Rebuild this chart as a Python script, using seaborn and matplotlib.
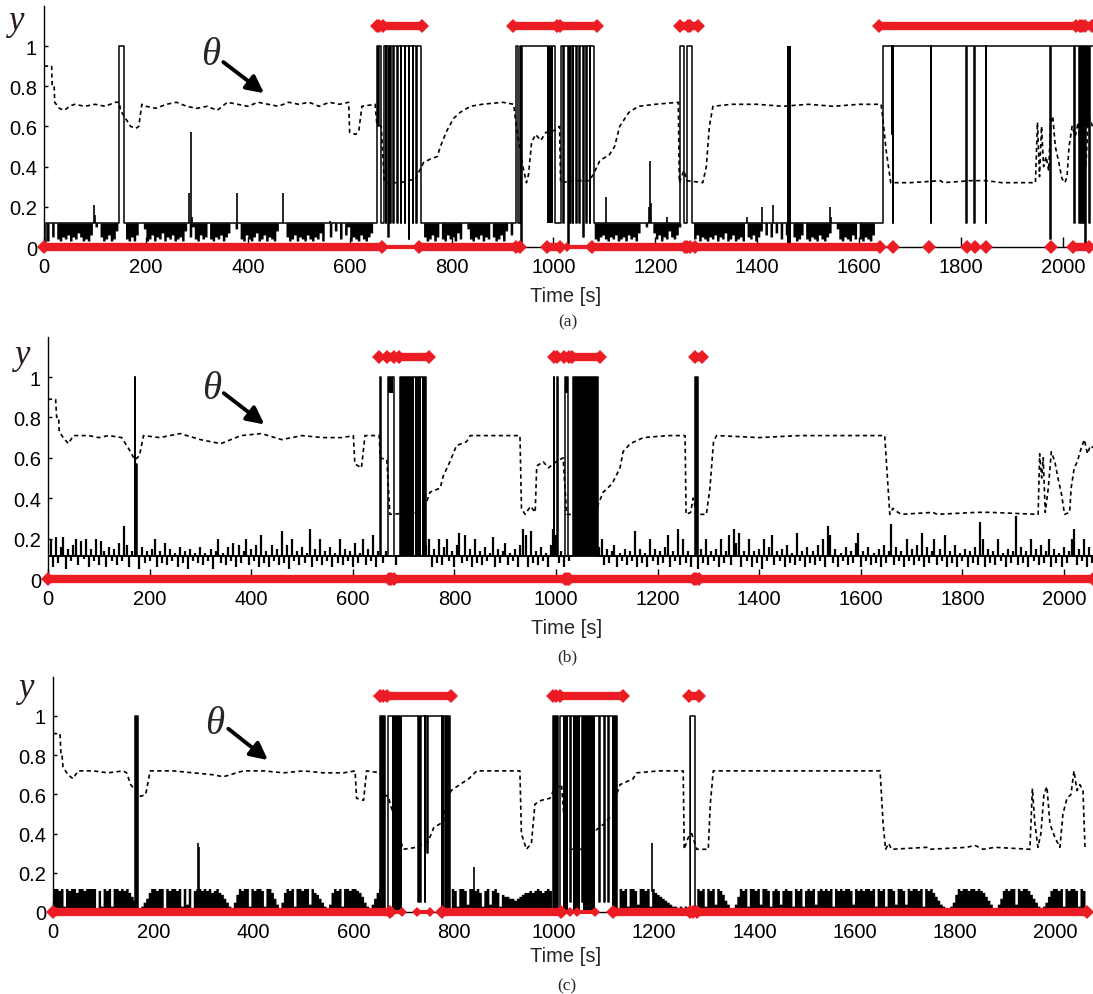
import numpy as np
import matplotlib
matplotlib.use('Agg')
import matplotlib.pyplot as plt
import seaborn as sns

sns.set_theme(style='white')
plt.rcParams['font.family'] = ['Liberation Sans', 'DejaVu Sans']

RED = '#ec1c24'
W, H = 1093, 995
BIN = 5  # seconds per noise bin

# ---------------------------------------------------------------- panel (a)
theta_t_a = [0, 15, 16, 20, 21, 30, 40, 50, 60, 80, 100, 120, 140, 148, 150, 160, 170, 180, 186, 192,
             200, 220, 240, 260, 280, 300, 320, 340, 360, 380, 400, 420, 440, 460, 480, 500, 520, 540,
             560, 580, 598, 600, 612, 618, 624, 650, 653, 656, 662, 668, 700, 730, 735, 745, 760, 772,
             778, 791, 804, 817, 837, 860, 900, 922, 926, 940, 947, 951, 957, 965, 975, 985, 1002, 1012,
             1014, 1040, 1070, 1078, 1091, 1110, 1120, 1130, 1148, 1167, 1200, 1245, 1247, 1256, 1262,
             1293, 1300, 1306, 1313, 1350, 1400, 1450, 1500, 1550, 1600, 1643, 1646, 1653, 1662, 1700,
             1760, 1765, 1820, 1850, 1880, 1946, 1950, 1954, 1958, 1962, 1967, 1972, 1976, 1980, 1985,
             1992, 1998, 2004, 2008, 2012, 2018, 2024, 2030, 2035, 2040, 2045, 2050, 2058]
theta_v_a = [0.90, 0.90, 0.80, 0.80, 0.72, 0.69, 0.68, 0.70, 0.71, 0.70, 0.71, 0.70, 0.72, 0.72, 0.68,
             0.64, 0.60, 0.59, 0.60, 0.71, 0.70, 0.69, 0.71, 0.72, 0.70, 0.69, 0.70, 0.68, 0.72, 0.71,
             0.70, 0.72, 0.71, 0.70, 0.72, 0.71, 0.72, 0.70, 0.72, 0.71, 0.72, 0.57, 0.56, 0.58, 0.70,
             0.71, 0.62, 0.61, 0.60, 0.32, 0.32, 0.34, 0.37, 0.42, 0.44, 0.45, 0.50, 0.58, 0.64, 0.67,
             0.70, 0.71, 0.72, 0.71, 0.62, 0.40, 0.32, 0.36, 0.52, 0.56, 0.53, 0.57, 0.58, 0.60, 0.32,
             0.33, 0.33, 0.36, 0.43, 0.46, 0.50, 0.60, 0.67, 0.70, 0.71, 0.72, 0.32, 0.38, 0.33, 0.32,
             0.40, 0.60, 0.70, 0.71, 0.71, 0.70, 0.71, 0.70, 0.71, 0.71, 0.65, 0.48, 0.32, 0.32, 0.33,
             0.32, 0.33, 0.33, 0.32, 0.32, 0.62, 0.35, 0.60, 0.40, 0.45, 0.38, 0.62, 0.65, 0.50, 0.42,
             0.34, 0.32, 0.35, 0.50, 0.60, 0.55, 0.62, 0.45, 0.62, 0.40, 0.66, 0.60]

sig_t_a = [0, 3, 148, 157,
           653, 656, 658, 661, 667, 671, 672, 676, 677, 680, 681, 686, 687, 693, 694, 700, 701, 708,
           709, 716, 717, 724, 725, 731, 732, 740,
           926, 931, 934, 936, 938, 1003, 1014, 1019, 1020, 1029, 1030, 1033, 1034, 1038, 1039, 1045,
           1046, 1051, 1052, 1058, 1059, 1064, 1065, 1071, 1072, 1080,
           1248, 1256, 1262, 1271,
           1646, 1664, 1665, 1666, 1667, 1741, 1742, 1810, 1811, 1826, 1827, 1848, 1849, 1975, 1976,
           2022, 2023, 2032, 2033, 2036, 2037, 2040, 2041, 2044, 2045, 2048, 2049, 2052, 2053, 2059]
sig_v_a = [0.02, 0.12, 1.0, 0.12,
           1.0, 0.6, 1.0, 0.12, 1.0, 0.12, 1.0, 0.05, 1.0, 0.12, 1.0, 0.12, 1.0, 0.12, 1.0, 0.12, 1.0,
           0.12, 1.0, 0.04, 1.0, 0.12, 1.0, 0.12, 1.0, 0.12,
           1.0, 0.12, 1.0, 0.0, 1.0, 0.12, 1.0, 0.12, 1.0, 0.0, 1.0, 0.12, 1.0, 0.12, 1.0, 0.12, 1.0,
           0.12, 1.0, 0.05, 1.0, 0.12, 1.0, 0.12, 1.0, 0.12,
           1.0, 0.12, 1.0, 0.12,
           1.0, 0.56, 1.0, 0.12, 1.0, 0.12, 1.0, 0.12, 1.0, 0.12, 1.0, 0.12, 1.0, 0.04, 1.0,
           0.12, 1.0, 0.12, 1.0, 0.12, 1.0, 0.12, 1.0, 0.0, 1.0, 0.6, 1.0, 0.12, 1.0, 1.0]

# lower edge (x100) of the dense dips below the 0.12 level, one value per 5 s
dip_a = ([12, 3, 12, 5, 12, 4, 3, 5, 4, 6, 3, 5, 4, 7, 5, 3, 4, 3, 6, 12] +
         [10, 12, 5, 3, 4, 6, 3, 4, 8, 12, 12, 12, 4, 3, 5, 3, 6, 12, 12, 9] +
         [3, 4, 6, 3, 5, 4, 7, 3, 5, 4, 6, 3, 4, 5, 3, 8, 12, 5, 10, 4] +
         [3, 6, 4, 5, 12, 4, 3, 5, 4, 6, 3, 5, 7, 12, 12, 9, 12, 4, 3, 6] +
         [4, 3, 5, 7, 3, 4, 6, 3, 5, 4, 3, 8, 12, 12, 12, 5, 3, 4, 6, 3] +
         [5, 4, 3, 6, 4, 3, 5, 4, 7, 3, 12, 12, 5, 12, 8, 12, 4, 12, 6, 10] +
         [3, 5, 4, 3, 6, 4, 3, 5, 7] + [12] * 11 +
         [12] * 9 + [5, 3, 4, 6, 3, 5, 12, 4, 3, 6, 4] +
         [5, 3, 7, 4, 12, 12, 9, 4, 3, 5, 4, 6, 3, 5, 4, 12, 5, 3, 4, 6] +
         [3, 8, 12, 6, 12] + [12] * 15 +
         [12] * 16 + [4, 3, 5, 6] +
         [4, 3, 5, 4, 6, 3, 4, 5, 3, 6, 4, 5, 3, 7, 12, 12, 10, 12, 12, 7] +
         [4, 6, 3, 5, 4, 8, 5, 4, 6, 10, 12, 12, 12, 12, 12, 4, 6, 3, 5, 4] +
         [3, 5, 4, 6, 3, 5, 4, 7, 3, 4, 6, 3, 4, 5, 3, 12, 5, 4, 6, 3] +
         [5, 8, 12, 6, 12, 5, 12, 7, 12, 4, 12, 6, 12, 12, 5, 3, 4, 6, 12, 4] +
         [3, 5, 4, 3, 6, 4, 3, 5, 7, 12, 12, 9, 4, 3, 5, 4, 3, 6, 4, 12] +
         [4, 3, 5, 4, 3, 6] + [12] * 14 +
         [12] * 80)
spike_t_a = [99, 101, 285, 288, 290, 378, 470, 561, 1104, 1188, 1190, 1192, 1222, 1379, 1410, 1430, 1543, 1545]
spike_v_a = [0.21, 0.16, 0.27, 0.57, 0.15, 0.27, 0.27, 0.13, 0.25, 0.20, 0.43, 0.22, 0.15, 0.15, 0.20, 0.21, 0.20, 0.15]
dense_s_a = [988, 1459]
dense_e_a = [1000, 1467]
dense_lo_a = [0.12, 0.02]
top_band_a = [(665, 741), (921, 1007), (1012, 1085), (1248, 1264), (1268, 1283), (1638, 2026), (2044, 2058)]
top_pts_a = [653, 657, 2033, 2038]
bot_band_a = [(0, 663), (737, 926), (988, 1012), (1075, 1258), (1277, 1640), (2020, 2052)]
bot_chain_a = [(665, 737), (1027, 1071)]
bot_pts_a = [935, 1262, 1268, 1666, 1738, 1811, 1827, 1848, 1976]

# ---------------------------------------------------------------- panel (b)
theta_t_b = [0, 15, 17, 21, 22, 30, 40, 50, 80, 100, 120, 145, 150, 160, 171, 180, 188, 220, 260, 300,
             340, 380, 420, 460, 500, 540, 580, 601, 604, 617, 624, 652, 654, 667, 673, 730, 745, 752,
             772, 778, 791, 804, 824, 831, 880, 929, 932, 939, 950, 959, 962, 975, 985, 1000, 1014, 1021,
             1080, 1083, 1093, 1110, 1126, 1132, 1146, 1172, 1220, 1254, 1256, 1265, 1270, 1277, 1296,
             1303, 1310, 1316, 1400, 1480, 1560, 1647, 1657, 1663, 1673, 1680, 1742, 1750, 1828, 1854,
             1949, 1952, 1956, 1959, 1963, 1969, 1975, 1982, 1988, 1995, 2001, 2011, 2014, 2020, 2026,
             2034, 2040, 2046, 2052, 2057]
theta_v_b = [0.89, 0.89, 0.80, 0.80, 0.73, 0.70, 0.67, 0.71, 0.71, 0.70, 0.71, 0.70, 0.68, 0.64, 0.59,
             0.61, 0.71, 0.70, 0.72, 0.69, 0.67, 0.71, 0.72, 0.69, 0.71, 0.70, 0.70, 0.71, 0.57, 0.55,
             0.71, 0.71, 0.60, 0.59, 0.32, 0.33, 0.38, 0.43, 0.45, 0.51, 0.58, 0.66, 0.68, 0.71, 0.71,
             0.71, 0.35, 0.32, 0.36, 0.33, 0.56, 0.58, 0.55, 0.58, 0.60, 0.32, 0.32, 0.37, 0.43, 0.47,
             0.55, 0.63, 0.67, 0.70, 0.71, 0.71, 0.32, 0.33, 0.40, 0.32, 0.32, 0.45, 0.68, 0.71, 0.70,
             0.71, 0.71, 0.71, 0.32, 0.35, 0.33, 0.32, 0.33, 0.32, 0.33, 0.33, 0.32, 0.62, 0.50, 0.60,
             0.33, 0.45, 0.63, 0.58, 0.50, 0.42, 0.32, 0.33, 0.45, 0.55, 0.58, 0.65, 0.69, 0.62, 0.66, 0.65]
sig_t_b = [0, 171, 172, 173, 175, 653, 655, 670, 681, 693, 745, 996, 997, 1002, 1003, 1017, 1024,
           1034, 1083, 1273, 1280, 2057]
sig_v_b = [0.115, 1.0, 0.115, 0.57, 0.115, 1.0, 0.115, 1.0, 0.115, 1.0, 0.115, 1.0, 0.115, 1.0, 0.115,
           1.0, 0.115, 1.0, 0.115, 1.0, 0.115, 0.115]
base_b = 0.115
# noise excursion end (x100) around the 0.115 level, one value per 5 s
noise_b = ([17, 20, 6, 21, 8, 16, 21, 5, 15, 9, 17, 20, 7, 19, 10, 20, 6, 15, 9, 20] +
           [7, 19, 14, 6, 16, 9, 15, 7, 18, 9, 26, 17, 6, 14, 12, 12, 5, 16, 8, 14] +
           [9, 15, 20, 6, 14, 8, 18, 7, 15, 9, 13, 6, 16, 8, 14, 5, 15, 9, 13, 8] +
           [16, 7, 13, 9, 15, 5, 14, 20, 8, 13, 7, 16, 9, 18, 6, 17, 8, 14, 20, 7] +
           [15, 9, 17, 6, 22, 8, 14, 6, 17, 9, 15, 7, 24, 8, 17, 5, 20, 9, 14, 7] +
           [16, 8, 13, 25, 6, 15, 9, 20, 7, 14, 9, 16, 6, 13, 8, 20, 7, 15, 9, 14] +
           [6, 18, 8, 13, 20, 7, 15, 9, 22, 6, 14, 12, 8, 14, 12, 12, 12, 7, 12, 12] +
           [12] * 9 + [17, 20, 6, 15, 8, 20, 7, 16, 20, 9, 14] +
           [6, 17, 23, 8, 22, 9, 15, 6, 20, 8, 14, 7, 16, 9, 13, 21, 6, 15, 8, 14] +
           [18, 7, 13, 9, 15, 6, 17, 25, 22, 6, 24, 8, 14, 7, 16, 9, 13, 6, 17, 25] +
           [22, 8, 14, 6, 12, 9, 12] + [12] * 10 + [16, 20, 7] +
           [15, 8, 14, 17, 6, 13, 9, 15, 7, 14, 9, 24, 6, 15, 8, 13, 6, 20, 9, 15] +
           [7, 14, 8, 16, 22, 6, 14, 9, 25, 7, 20, 8, 14, 6, 12, 12, 5, 15, 8, 20] +
           [7, 14, 9, 15, 6, 20, 8, 14, 22, 7, 25, 18, 23, 6, 14, 9, 20, 6, 14, 8] +
           [15, 5, 20, 9, 16, 22, 7, 14, 9, 15, 6, 17, 8, 13, 7, 23, 9, 14, 6, 16] +
           [8, 14, 7, 17, 9, 20, 6, 26, 22, 8, 15, 6, 13, 9, 16, 7, 14, 8, 18, 23] +
           [6, 14, 9, 16, 7, 13, 8, 15, 6, 17, 8, 14, 27, 7, 16, 9, 14, 6, 20, 9] +
           [15, 7, 17, 9, 23, 6, 16, 8, 14, 20, 7, 15, 9, 22, 6, 14, 8, 17, 6, 13] +
           [9, 15, 6, 14, 8, 16, 7, 28, 20, 6, 15, 8, 14, 7, 20, 9, 13, 6, 15, 8] +
           [14, 31, 7, 16, 8, 14, 6, 20, 9, 15, 7, 17, 8, 14, 20, 6, 15, 8, 13, 6] +
           [16, 8, 14, 20, 25, 7, 15, 9, 20, 6, 16, 8] + [12] * 8)
dense_s_b = [670, 693, 723, 737, 1017, 1034, 1273]
dense_e_b = [680, 721, 734, 745, 1023, 1083, 1280]
dense_lo_b = [0.92, 0.115, 0.115, 0.115, 0.92, 0.115, 0.115]
top_band_b = [(668, 682), (690, 749), (1015, 1025), (1032, 1087), (1273, 1287)]
top_pts_b = [651, 996, 1001]
bot_band_b = [(0, 671), (681, 1018), (1025, 1272), (1281, 2057)]
bot_chain_b = []
bot_pts_b = [676, 1021, 1276]

# ---------------------------------------------------------------- panel (c)
theta_t_c = [0, 14, 16, 18, 20, 30, 40, 50, 80, 110, 140, 147, 155, 165, 175, 185, 194, 240, 280, 320,
             340, 380, 420, 460, 500, 540, 580, 603, 606, 620, 626, 653, 659, 669, 699, 726, 740, 749,
             760, 779, 786, 795, 812, 830, 846, 890, 932, 935, 945, 955, 962, 975, 992, 999, 1015, 1025,
             1065, 1070, 1085, 1100, 1118, 1122, 1132, 1158, 1165, 1210, 1258, 1260, 1268, 1275, 1285,
             1308, 1312, 1318, 1380, 1450, 1520, 1600, 1651, 1657, 1662, 1668, 1674, 1744, 1750, 1824,
             1840, 1857, 1880, 1950, 1955, 1960, 1966, 1972, 1978, 1984, 1990, 2000, 2010, 2016, 2024,
             2032, 2038, 2044, 2050, 2056, 2060]
theta_v_c = [0.91, 0.91, 0.80, 0.80, 0.74, 0.70, 0.68, 0.72, 0.72, 0.71, 0.72, 0.71, 0.65, 0.62, 0.59,
             0.60, 0.72, 0.72, 0.71, 0.70, 0.69, 0.72, 0.72, 0.71, 0.72, 0.71, 0.71, 0.72, 0.58, 0.57,
             0.72, 0.71, 0.60, 0.59, 0.32, 0.33, 0.35, 0.36, 0.43, 0.46, 0.57, 0.62, 0.65, 0.68, 0.72,
             0.72, 0.72, 0.40, 0.32, 0.35, 0.55, 0.57, 0.58, 0.62, 0.65, 0.32, 0.32, 0.35, 0.42, 0.45,
             0.50, 0.58, 0.65, 0.68, 0.71, 0.72, 0.72, 0.32, 0.38, 0.40, 0.32, 0.32, 0.55, 0.72, 0.72,
             0.72, 0.72, 0.72, 0.72, 0.45, 0.32, 0.35, 0.32, 0.33, 0.32, 0.33, 0.34, 0.32, 0.33, 0.32,
             0.63, 0.45, 0.33, 0.40, 0.60, 0.64, 0.45, 0.38, 0.33, 0.50, 0.58, 0.60, 0.72, 0.62, 0.65,
             0.62, 0.33]
sig_t_c = [0, 164, 169, 653, 662, 669, 729, 730, 733, 734, 742, 743, 747, 748, 776, 777, 779, 780, 793,
           999, 1008, 1012, 1033, 1034, 1056, 1057, 1090, 1091, 1100, 1101, 1108, 1109, 1126, 1271, 1281, 2062]
sig_v_c = [0.0, 1.0, 0.0, 1.0, 0.0, 1.0, 0.05, 1.0, 0.05, 1.0, 0.05, 1.0, 0.3, 1.0, 0.0, 1.0, 0.0, 1.0, 0.0,
           1.0, 0.0, 1.0, 0.05, 1.0, 0.05, 1.0, 0.05, 1.0, 0.05, 1.0, 0.05, 1.0, 0.0, 1.0, 0.0, 0.0]
# top (x100) of the dense mass rising from 0, one value per 5 s
mass_c = ([12, 12, 11, 12, 3, 12, 11, 12, 12, 10, 12, 12, 11, 12, 12, 12, 12, 2, 11, 3] +
          [12, 11, 12, 3, 12, 12, 11, 12, 11, 12, 10, 8, 6, 0, 2, 3, 5, 7, 10, 12] +
          [12, 11, 12, 12, 2, 12, 11, 12, 12, 11, 12, 3, 12, 4, 12, 2, 11, 12, 12, 11] +
          [12, 11, 12, 10, 11, 12, 10, 9, 7, 5, 3, 2, 5, 9, 12, 11, 12, 12, 3, 12] +
          [11, 12, 12, 11, 3, 12, 12, 10, 7, 4, 2, 5, 10, 12, 11, 12, 3, 12, 12, 11] +
          [12, 12, 4, 12, 10, 9, 7, 5, 3, 2, 4, 10, 12, 11, 12, 3, 12, 12, 11, 12] +
          [12, 11, 10, 8, 5, 3, 2, 4, 7, 10, 12] + [0] * 9 +
          [0] * 19 + [12] +
          [11, 3, 12, 12, 11, 4, 12, 12, 11, 12, 10, 3, 11, 12, 4, 11, 12, 10, 3, 9] +
          [8, 8, 7, 7, 6, 7, 8, 9, 10, 10, 11, 10, 11, 12, 11, 10, 11, 12, 11, 0] +
          [0] * 20 +
          [0] * 6 + [12, 11, 12, 3, 12, 12, 11, 4, 12, 12, 11, 12, 3, 12] +
          [10, 9, 8, 7, 6, 5, 4, 3, 3, 2, 3, 2, 3, 2, 0, 0, 0, 12, 11, 12] +
          [3, 12, 11, 12, 4, 12, 11, 9, 6, 4, 2, 2, 4, 8, 12, 11, 12, 3, 12, 12] +
          [11, 12, 4, 12, 12, 11, 3, 11, 12, 11, 4, 11, 12, 11, 11, 3, 12, 11, 12, 3] +
          [11, 12, 11, 12, 4, 11, 12, 11, 12, 11, 12, 3, 12, 11, 12, 11, 12, 12, 11, 4] +
          [12, 11, 12, 11, 12, 12, 11, 12, 3, 12, 11, 12, 3, 12, 12, 11, 4, 12, 12, 11] +
          [4, 12, 11, 12, 12, 11, 12, 3, 12, 11, 12, 10, 8, 6, 4, 3, 2, 2, 3, 5] +
          [9, 12, 11, 12, 12, 11, 12, 12, 11, 12, 11, 10, 8, 6, 4, 2, 2, 4, 7, 11] +
          [12, 11, 12, 12, 4, 12, 11, 12, 12, 11, 9, 7, 5, 3, 2, 3, 5, 8, 11, 12] +
          [12, 11, 12, 3, 12, 11, 12, 12, 11, 3, 12, 11] + [0] * 8)
spike_t_c = [290, 292, 840, 1195]
spike_v_c = [0.35, 0.33, 0.23, 0.35]
dense_s_c = [164, 653, 676, 782, 999, 1018, 1038, 1058, 1115, 1271]
dense_e_c = [169, 662, 696, 793, 1008, 1029, 1052, 1082, 1125, 1274]
dense_lo_c = [0.0] * 10
top_band_c = [(666, 794), (1012, 1138), (1270, 1290)]
top_pts_c = [652, 658, 998, 1004]
bot_band_c = [(0, 673), (776, 1015), (1118, 1271), (1285, 2064)]
bot_chain_c = [(676, 696), (726, 753), (1018, 1032), (1045, 1082)]
bot_pts_c = [1277]

x_ticks = [0, 200, 400, 600, 800, 1000, 1200, 1400, 1600, 1800, 2000]
y_ticks = [0, 0.2, 0.4, 0.6, 0.8, 1.0]
y_tick_labels = ['0', '0.2', '0.4', '0.6', '0.8', '1']

fig = plt.figure(figsize=(W / 100, H / 100), dpi=100)


def make_axes(left_px, y0_px, ppu):
    ax = fig.add_axes([left_px / W, (H - y0_px) / H, (W - left_px) / W, 1.2 * ppu / H])
    return ax


def red_marks(ax, bands, chains, pts, y):
    for s, e in bands:
        ax.plot([s, e], [y, y], color=RED, lw=6.0, solid_capstyle='butt', marker='D', ms=7,
                mew=0, clip_on=False, zorder=6)
    for s, e in chains:
        ax.plot([s, e], [y, y], color=RED, lw=3.0, solid_capstyle='butt', marker='D', ms=5,
                mew=0, clip_on=False, zorder=6)
    if pts:
        ax.plot(pts, [y] * len(pts), ls='none', color=RED, marker='D', ms=7, mew=0,
                clip_on=False, zorder=6)


def finish(ax, xmax):
    ax.set_xlim(0, xmax)
    ax.set_ylim(0, 1.2)
    ax.set_xticks(x_ticks)
    ax.set_xticklabels([str(v) for v in x_ticks])
    ax.set_yticks(y_ticks)
    ax.set_yticklabels(y_tick_labels)
    ax.tick_params(axis='x', direction='in', length=7, width=1, pad=7, labelsize=14.5,
                   colors='black', bottom=True)
    ax.tick_params(axis='y', direction='in', length=3, width=1, pad=5, labelsize=14.5,
                   colors='black', left=True)
    for side in ['top', 'right']:
        ax.spines[side].set_visible(False)
    for side in ['left', 'bottom']:
        ax.spines[side].set_visible(True)
        ax.spines[side].set_color('black')
        ax.spines[side].set_linewidth(1.0)
    ax.set_xlabel('')
    ax.set_ylabel('')
    ax.patch.set_alpha(0)


def draw_common(ax, theta_t, theta_v, sig_t, sig_v, ds, de, dlo):
    for s, e, lo in zip(ds, de, dlo):
        ax.fill_between([s, e], [lo, lo], [1.0, 1.0], color='black', lw=0, zorder=3)
    sns.lineplot(x=sig_t, y=sig_v, ax=ax, color='black', lw=1.1, drawstyle='steps-post',
                 estimator=None, sort=False, zorder=4)
    sns.lineplot(x=theta_t, y=theta_v, ax=ax, color='black', lw=1.2, estimator=None,
                 sort=False, zorder=4).lines[-1].set_dashes((2.5, 2.0))


def fig_text(xp, yp, s, **kw):
    fig.text(xp / W, 1 - yp / H, s, ha='center', va='center', **kw)


serif = ['Liberation Serif', 'DejaVu Serif']
ARROW = dict(arrowstyle='-|>', lw=2.8, color='black', mutation_scale=26, shrinkA=0, shrinkB=0)

# ---- (a)
ax = make_axes(44, 248, 201)
tb = np.arange(len(dip_a)) * BIN
ax.fill_between(tb, np.array(dip_a) / 100.0, 0.12, step='post', color='black', lw=0, zorder=2)
ax.vlines(spike_t_a, 0.12, spike_v_a, color='black', lw=1.2, zorder=3)
draw_common(ax, theta_t_a, theta_v_a, sig_t_a, sig_v_a, dense_s_a, dense_e_a, dense_lo_a)
red_marks(ax, top_band_a, [], top_pts_a, 1.1)
red_marks(ax, bot_band_a, bot_chain_a, bot_pts_a, 0.0)
ax.annotate('', xy=(432, 0.765), xytext=(352, 0.92), arrowprops=ARROW)
ax.text(328, 0.96, 'θ', ha='center', va='center', fontsize=28, family=serif, style='italic')
finish(ax, 2059)
fig_text(17, 22, 'y', fontsize=25, family=serif, style='italic', color='#2a1a1a')
fig_text(566, 296, 'Time [s]', fontsize=14.5)
fig_text(568, 322, '(a)', fontsize=12.5, family=serif)

# ---- (b)
ax = make_axes(48, 580, 202)
tb = np.arange(len(noise_b)) * BIN
ax.axhline(base_b, color='black', lw=1.3, zorder=2)
ax.vlines(tb, base_b, np.array(noise_b) / 100.0, color='black', lw=1.6, zorder=2)
draw_common(ax, theta_t_b, theta_v_b, sig_t_b, sig_v_b, dense_s_b, dense_e_b, dense_lo_b)
red_marks(ax, top_band_b, [], top_pts_b, 1.1)
red_marks(ax, bot_band_b, bot_chain_b, bot_pts_b, 0.0)
ax.annotate('', xy=(426, 0.765), xytext=(346, 0.92), arrowprops=ARROW)
ax.text(322, 0.945, 'θ', ha='center', va='center', fontsize=28, family=serif, style='italic')
finish(ax, 2057)
fig_text(23, 355, 'y', fontsize=25, family=serif, style='italic', color='#2a1a1a')
fig_text(567, 628, 'Time [s]', fontsize=14.5)
fig_text(567, 657, '(b)', fontsize=12.5, family=serif)

# ---- (c)
ax = make_axes(53, 913, 196)
tb = np.arange(len(mass_c)) * BIN
ax.fill_between(tb, 0, np.array(mass_c) / 100.0, step='post', color='black', lw=0, zorder=2)
ax.vlines(spike_t_c, 0.1, spike_v_c, color='black', lw=1.2, zorder=3)
draw_common(ax, theta_t_c, theta_v_c, sig_t_c, sig_v_c, dense_s_c, dense_e_c, dense_lo_c)
red_marks(ax, top_band_c, [], top_pts_c, 1.1)
red_marks(ax, bot_band_c, bot_chain_c, bot_pts_c, 0.0)
ax.annotate('', xy=(429, 0.775), xytext=(350, 0.935), arrowprops=ARROW)
ax.text(323, 0.96, 'θ', ha='center', va='center', fontsize=28, family=serif, style='italic')
finish(ax, 2076)
fig_text(27, 689, 'y', fontsize=25, family=serif, style='italic', color='#2a1a1a')
fig_text(566, 957, 'Time [s]', fontsize=14.5)
fig_text(567, 986, '(c)', fontsize=12.5, family=serif)

fig.savefig('out.png', dpi=100)
